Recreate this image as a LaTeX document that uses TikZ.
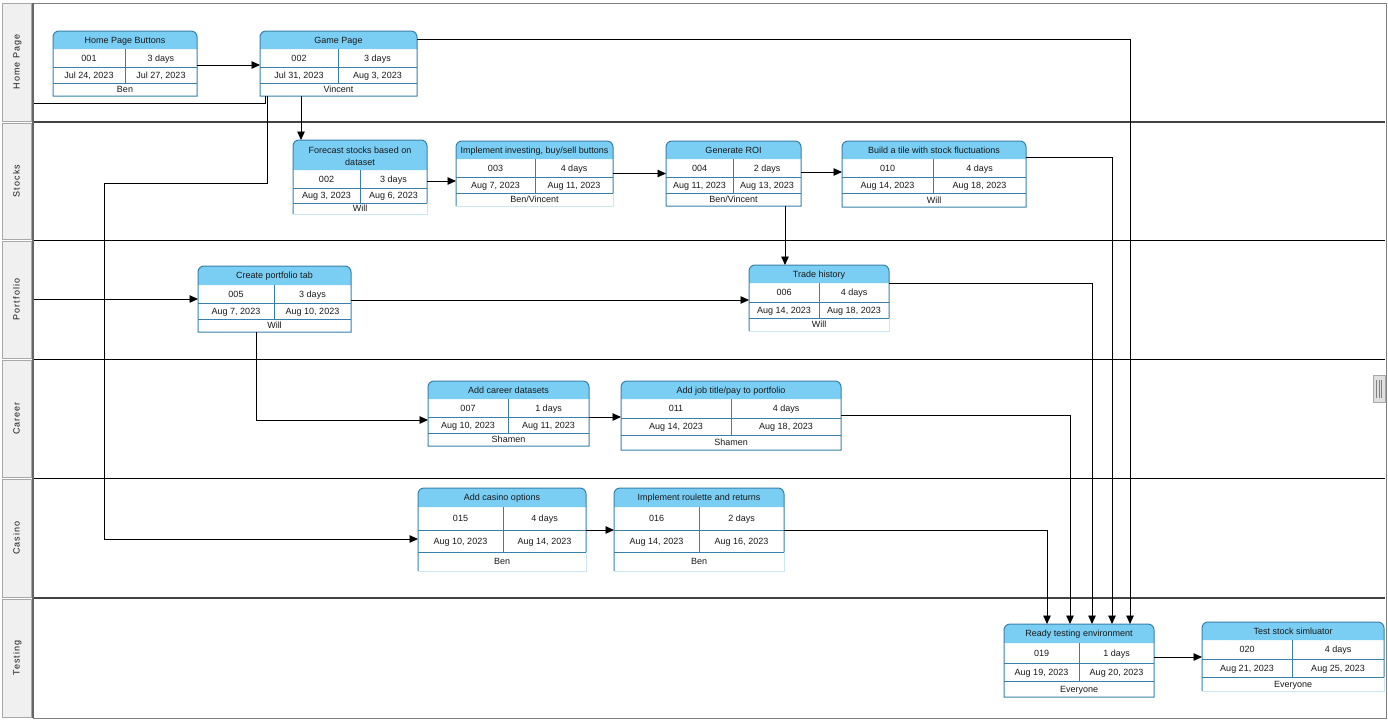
\documentclass[tikz,border=0pt]{standalone}
\usepackage{fontspec}
\setmainfont{Liberation Sans}
\newfontfamily\lanefont[LetterSpace=12]{Liberation Sans}
\usetikzlibrary{arrows.meta}
\definecolor{headblue}{RGB}{122,206,244}
\definecolor{cellblue}{RGB}{56,128,170}
\definecolor{paleblue}{RGB}{204,230,242}
\definecolor{ink}{RGB}{25,25,25}
\definecolor{lanefill}{RGB}{240,240,240}
\definecolor{laneedge}{RGB}{168,168,168}
\definecolor{sepgray}{RGB}{66,66,66}
\begin{document}
    \begin{tikzpicture}[x=1pt, y=-1pt,
        every node/.style={font=\fontsize{9}{11}\selectfont, text=ink, inner sep=0, outer sep=0, text height=6.4pt, text depth=0pt},
        task/.style={rectangle, fill=white},
        head/.style={fill=headblue},
        frame/.style={draw=cellblue, line width=1pt},
        pale/.style={draw=paleblue, line width=1pt},
        link/.style={draw=black, line width=0.9pt, -{Triangle[length=8.5pt,width=7.5pt]}},
        lanebox/.style={rectangle, rotate=90, fill=lanefill, draw=laneedge, line width=0.8pt, minimum height=29, font=\lanefont\fontsize{9}{10}\selectfont}]
        \useasboundingbox (0,0) rectangle (1388,720);
        \fill[white] (0,0) rectangle (1388,720);

        \draw[gray, line width=1pt] (33,3) -- (1386,3) -- (1386,718) -- (33,718);
        \draw[sepgray, line width=2pt] (33,122) -- (1385,122);
        \draw[black, line width=1pt] (33,240) -- (1385,240);
        \draw[black, line width=1pt] (33,359) -- (1385,359);
        \draw[black, line width=1pt] (33,478) -- (1385,478);
        \draw[sepgray, line width=2pt] (33,598) -- (1385,598);

        \node[task, minimum width=144, minimum height=65] (hpb) at (125, 63.5) {};
        \fill[head] (hpb.west |- 0,49) [rounded corners=6pt] -- (hpb.north west) -- (hpb.north east) [sharp corners] -- (hpb.east |- 0,49) -- cycle;
        \draw[frame] (hpb.west |- 0,67) -- (hpb.east |- 0,67) (hpb.west |- 0,83) -- (hpb.east |- 0,83) (125,49) -- (125,83);
        \draw[frame] (hpb.south west) [rounded corners=6pt] -- (hpb.north west) -- (hpb.north east) [sharp corners] -- (hpb.south east) -- cycle;
        \node (hpb-t) at (125, 40) { Home Page Buttons };
        \node (hpb-id) at (89, 58) { 001 };
        \node (hpb-du) at (161, 58) { 3 days };
        \node (hpb-s) at (89, 75) { Jul 24, 2023 };
        \node (hpb-e) at (161, 75) { Jul 27, 2023 };
        \node (hpb-w) at (125, 89.5) { Ben };

        \node[task, minimum width=157, minimum height=65] (game) at (338.5, 63.5) {};
        \fill[head] (game.west |- 0,49) [rounded corners=6pt] -- (game.north west) -- (game.north east) [sharp corners] -- (game.east |- 0,49) -- cycle;
        \draw[frame] (game.west |- 0,67) -- (game.east |- 0,67) (game.west |- 0,83) -- (game.east |- 0,83) (338,49) -- (338,83);
        \draw[frame] (game.south west) [rounded corners=6pt] -- (game.north west) -- (game.north east) [sharp corners] -- (game.south east) -- cycle;
        \node (game-t) at (338.5, 40) { Game Page };
        \node (game-id) at (299, 58) { 002 };
        \node (game-du) at (377.5, 58) { 3 days };
        \node (game-s) at (299, 75) { Jul 31, 2023 };
        \node (game-e) at (377.5, 75) { Aug 3, 2023 };
        \node (game-w) at (338.5, 89.5) { Vincent };

        \node[task, minimum width=134, minimum height=74] (fcst) at (360, 177) {};
        \fill[head] (fcst.west |- 0,170) [rounded corners=6pt] -- (fcst.north west) -- (fcst.north east) [sharp corners] -- (fcst.east |- 0,170) -- cycle;
        \draw[frame] (fcst.west |- 0,188) -- (fcst.east |- 0,188) (fcst.west |- 0,203) -- (fcst.east |- 0,203) (360,170) -- (360,203);
        \draw[frame] (fcst.south west) [rounded corners=6pt] -- (fcst.north west) -- (fcst.north east) [sharp corners] -- (fcst.east |- 0,203);
        \draw[pale] (fcst.east |- 0,203) -- (fcst.south east) -- (fcst.south west);
        \node (fcst-t) at (360, 150) { Forecast stocks based on };
        \node (fcst-t2) at (360, 162) { dataset };
        \node (fcst-id) at (326.5, 179) { 002 };
        \node (fcst-du) at (393.5, 179) { 3 days };
        \node (fcst-s) at (326.5, 195.5) { Aug 3, 2023 };
        \node (fcst-e) at (393.5, 195.5) { Aug 6, 2023 };
        \node (fcst-w) at (360, 208.5) { Will };

        \node[task, minimum width=157, minimum height=65] (invest) at (534.5, 173.5) {};
        \fill[head] (invest.west |- 0,159) [rounded corners=6pt] -- (invest.north west) -- (invest.north east) [sharp corners] -- (invest.east |- 0,159) -- cycle;
        \draw[frame] (invest.west |- 0,177) -- (invest.east |- 0,177) (invest.west |- 0,193) -- (invest.east |- 0,193) (535,159) -- (535,193);
        \draw[frame] (invest.south west) [rounded corners=6pt] -- (invest.north west) -- (invest.north east) [sharp corners] -- (invest.east |- 0,193);
        \draw[pale] (invest.east |- 0,193) -- (invest.south east) -- (invest.south west);
        \node (invest-t) at (534.5, 150) { Implement investing, buy/sell buttons };
        \node (invest-id) at (495.5, 168) { 003 };
        \node (invest-du) at (574, 168) { 4 days };
        \node (invest-s) at (495.5, 185) { Aug 7, 2023 };
        \node (invest-e) at (574, 185) { Aug 11, 2023 };
        \node (invest-w) at (534.5, 199.5) { Ben/Vincent };

        \node[task, minimum width=135, minimum height=65] (roi) at (733.5, 173.5) {};
        \fill[head] (roi.west |- 0,159) [rounded corners=6pt] -- (roi.north west) -- (roi.north east) [sharp corners] -- (roi.east |- 0,159) -- cycle;
        \draw[frame] (roi.west |- 0,177) -- (roi.east |- 0,177) (roi.west |- 0,193) -- (roi.east |- 0,193) (733,159) -- (733,193);
        \draw[frame] (roi.south west) [rounded corners=6pt] -- (roi.north west) -- (roi.north east) [sharp corners] -- (roi.south east) -- cycle;
        \node (roi-t) at (733.5, 150) { Generate ROI };
        \node (roi-id) at (699.5, 168) { 004 };
        \node (roi-du) at (767, 168) { 2 days };
        \node (roi-s) at (699.5, 185) { Aug 11, 2023 };
        \node (roi-e) at (767, 185) { Aug 13, 2023 };
        \node (roi-w) at (733.5, 199.5) { Ben/Vincent };

        \node[task, minimum width=184, minimum height=66] (tile) at (934, 174) {};
        \fill[head] (tile.west |- 0,159) [rounded corners=6pt] -- (tile.north west) -- (tile.north east) [sharp corners] -- (tile.east |- 0,159) -- cycle;
        \draw[frame] (tile.west |- 0,177) -- (tile.east |- 0,177) (tile.west |- 0,193) -- (tile.east |- 0,193) (933,159) -- (933,193);
        \draw[frame] (tile.south west) [rounded corners=6pt] -- (tile.north west) -- (tile.north east) [sharp corners] -- (tile.south east) -- cycle;
        \node (tile-t) at (934, 150) { Build a tile with stock fluctuations };
        \node (tile-id) at (887.5, 168) { 010 };
        \node (tile-du) at (979.5, 168) { 4 days };
        \node (tile-s) at (887.5, 185) { Aug 14, 2023 };
        \node (tile-e) at (979.5, 185) { Aug 18, 2023 };
        \node (tile-w) at (934, 200) { Will };

        \node[task, minimum width=153, minimum height=66] (port) at (274.5, 299) {};
        \fill[head] (port.west |- 0,285) [rounded corners=6pt] -- (port.north west) -- (port.north east) [sharp corners] -- (port.east |- 0,285) -- cycle;
        \draw[frame] (port.west |- 0,303) -- (port.east |- 0,303) (port.west |- 0,319) -- (port.east |- 0,319) (274,285) -- (274,319);
        \draw[frame] (port.south west) [rounded corners=6pt] -- (port.north west) -- (port.north east) [sharp corners] -- (port.south east) -- cycle;
        \node (port-t) at (274.5, 275.5) { Create portfolio tab };
        \node (port-id) at (236, 294) { 005 };
        \node (port-du) at (312.5, 294) { 3 days };
        \node (port-s) at (236, 311) { Aug 7, 2023 };
        \node (port-e) at (312.5, 311) { Aug 10, 2023 };
        \node (port-w) at (274.5, 325.5) { Will };

        \node[task, minimum width=140, minimum height=66] (trade) at (819, 298) {};
        \fill[head] (trade.west |- 0,283) [rounded corners=6pt] -- (trade.north west) -- (trade.north east) [sharp corners] -- (trade.east |- 0,283) -- cycle;
        \draw[frame] (trade.west |- 0,302) -- (trade.east |- 0,302) (trade.west |- 0,318) -- (trade.east |- 0,318) (819,283) -- (819,318);
        \draw[frame] (trade.south west) [rounded corners=6pt] -- (trade.north west) -- (trade.north east) [sharp corners] -- (trade.east |- 0,318);
        \draw[pale] (trade.east |- 0,318) -- (trade.south east) -- (trade.south west);
        \node (trade-t) at (819, 274) { Trade history };
        \node (trade-id) at (784, 292.5) { 006 };
        \node (trade-du) at (854, 292.5) { 4 days };
        \node (trade-s) at (784, 310) { Aug 14, 2023 };
        \node (trade-e) at (854, 310) { Aug 18, 2023 };
        \node (trade-w) at (819, 324.5) { Will };

        \node[task, minimum width=161, minimum height=65] (career) at (508.5, 413.5) {};
        \fill[head] (career.west |- 0,399) [rounded corners=6pt] -- (career.north west) -- (career.north east) [sharp corners] -- (career.east |- 0,399) -- cycle;
        \draw[frame] (career.west |- 0,417) -- (career.east |- 0,417) (career.west |- 0,433) -- (career.east |- 0,433) (508,399) -- (508,433);
        \draw[frame] (career.south west) [rounded corners=6pt] -- (career.north west) -- (career.north east) [sharp corners] -- (career.south east) -- cycle;
        \node (career-t) at (508.5, 390) { Add career datasets };
        \node (career-id) at (468, 408) { 007 };
        \node (career-du) at (548.5, 408) { 1 days };
        \node (career-s) at (468, 425) { Aug 10, 2023 };
        \node (career-e) at (548.5, 425) { Aug 11, 2023 };
        \node (career-w) at (508.5, 439.5) { Shamen };

        \node[task, minimum width=220, minimum height=69] (job) at (731, 415.5) {};
        \fill[head] (job.west |- 0,399) [rounded corners=6pt] -- (job.north west) -- (job.north east) [sharp corners] -- (job.east |- 0,399) -- cycle;
        \draw[frame] (job.west |- 0,418) -- (job.east |- 0,418) (job.west |- 0,435) -- (job.east |- 0,435) (731,399) -- (731,435);
        \draw[frame] (job.south west) [rounded corners=6pt] -- (job.north west) -- (job.north east) [sharp corners] -- (job.south east) -- cycle;
        \node (job-t) at (731, 390) { Add job title/pay to portfolio };
        \node (job-id) at (676, 408.5) { 011 };
        \node (job-du) at (786, 408.5) { 4 days };
        \node (job-s) at (676, 426.5) { Aug 14, 2023 };
        \node (job-e) at (786, 426.5) { Aug 18, 2023 };
        \node (job-w) at (731, 442.5) { Shamen };

        \node[task, minimum width=168, minimum height=83] (casino) at (502, 529.5) {};
        \fill[head] (casino.west |- 0,507) [rounded corners=6pt] -- (casino.north west) -- (casino.north east) [sharp corners] -- (casino.east |- 0,507) -- cycle;
        \draw[frame] (casino.west |- 0,530) -- (casino.east |- 0,530) (casino.west |- 0,552) -- (casino.east |- 0,552) (503,507) -- (503,552);
        \draw[frame] (casino.south west) [rounded corners=6pt] -- (casino.north west) -- (casino.north east) [sharp corners] -- (casino.east |- 0,552);
        \draw[pale] (casino.east |- 0,552) -- (casino.south east) -- (casino.south west);
        \node (casino-t) at (502, 497.5) { Add casino options };
        \node (casino-id) at (460.5, 518.5) { 015 };
        \node (casino-du) at (544.5, 518.5) { 4 days };
        \node (casino-s) at (460.5, 541) { Aug 10, 2023 };
        \node (casino-e) at (544.5, 541) { Aug 14, 2023 };
        \node (casino-w) at (502, 561.5) { Ben };

        \node[task, minimum width=170, minimum height=83] (roul) at (699, 529.5) {};
        \fill[head] (roul.west |- 0,507) [rounded corners=6pt] -- (roul.north west) -- (roul.north east) [sharp corners] -- (roul.east |- 0,507) -- cycle;
        \draw[frame] (roul.west |- 0,530) -- (roul.east |- 0,530) (roul.west |- 0,552) -- (roul.east |- 0,552) (699,507) -- (699,552);
        \draw[frame] (roul.south west) [rounded corners=6pt] -- (roul.north west) -- (roul.north east) [sharp corners] -- (roul.east |- 0,552);
        \draw[pale] (roul.east |- 0,552) -- (roul.south east) -- (roul.south west);
        \node (roul-t) at (699, 497.5) { Implement roulette and returns };
        \node (roul-id) at (656.5, 518.5) { 016 };
        \node (roul-du) at (741.5, 518.5) { 2 days };
        \node (roul-s) at (656.5, 541) { Aug 14, 2023 };
        \node (roul-e) at (741.5, 541) { Aug 16, 2023 };
        \node (roul-w) at (699, 561.5) { Ben };

        \node[task, minimum width=150, minimum height=73] (ready) at (1079, 660.5) {};
        \fill[head] (ready.west |- 0,643) [rounded corners=6pt] -- (ready.north west) -- (ready.north east) [sharp corners] -- (ready.east |- 0,643) -- cycle;
        \draw[frame] (ready.west |- 0,663) -- (ready.east |- 0,663) (ready.west |- 0,681) -- (ready.east |- 0,681) (1079,643) -- (1079,681);
        \draw[frame] (ready.south west) [rounded corners=6pt] -- (ready.north west) -- (ready.north east) [sharp corners] -- (ready.south east) -- cycle;
        \node (ready-t) at (1079, 633.5) { Ready testing environment };
        \node (ready-id) at (1041.5, 653) { 019 };
        \node (ready-du) at (1116.5, 653) { 1 days };
        \node (ready-s) at (1041.5, 672) { Aug 19, 2023 };
        \node (ready-e) at (1116.5, 672) { Aug 20, 2023 };
        \node (ready-w) at (1079, 689) { Everyone };

        \node[task, minimum width=182, minimum height=69] (test) at (1293, 656.5) {};
        \fill[head] (test.west |- 0,640) [rounded corners=6pt] -- (test.north west) -- (test.north east) [sharp corners] -- (test.east |- 0,640) -- cycle;
        \draw[frame] (test.west |- 0,659) -- (test.east |- 0,659) (test.west |- 0,677) -- (test.east |- 0,677) (1292,640) -- (1292,677);
        \draw[frame] (test.south west) [rounded corners=6pt] -- (test.north west) -- (test.north east) [sharp corners] -- (test.east |- 0,677);
        \draw[pale] (test.east |- 0,677) -- (test.south east) -- (test.south west);
        \node (test-t) at (1293, 631) { Test stock simluator };
        \node (test-id) at (1247, 649.5) { 020 };
        \node (test-du) at (1338, 649.5) { 4 days };
        \node (test-s) at (1247, 668) { Aug 21, 2023 };
        \node (test-e) at (1338, 668) { Aug 25, 2023 };
        \node (test-w) at (1293, 684) { Everyone };

        \draw[link] (hpb.east |- 0,65) -- (game.west |- 0,65);
        \draw[link] (game.south -| 301,0) -- (fcst.north -| 301,0);
        \draw[link] (game.south -| 265,0) |- (16,103) |- (port.west);
        \draw[link] (game.south -| 267,0) |- (104,183) |- (casino.west |- 0,539);
        \draw[link] (game.east |- 0,39) -| (ready.north -| 1130,0);
        \draw[link] (fcst.east |- 0,181) -- (invest.west |- 0,181);
        \draw[link] (invest.east) -- (roi.west);
        \draw[link] (roi.east |- 0,172) -- (tile.west |- 0,172);
        \draw[link] (roi.south -| 785,0) -- (trade.north -| 785,0);
        \draw[link] (tile.east |- 0,157) -| (ready.north -| 1112,0);
        \draw[link] (port.east |- 0,300) -- (trade.west |- 0,300);
        \draw[link] (port.south -| 256,0) |- (career.west |- 0,420);
        \draw[link] (trade.east |- 0,283) -| (ready.north -| 1092,0);
        \draw[link] (career.east |- 0,417) -- (job.west |- 0,417);
        \draw[link] (job.east |- 0,415) -| (ready.north -| 1070,0);
        \draw[link] (casino.east |- 0,530) -- (roul.west |- 0,530);
        \draw[link] (roul.east |- 0,530) -| (ready.north -| 1047,0);
        \draw[link] (ready.east |- 0,657) -- (test.west |- 0,657);

        \fill[white] (0,0) rectangle (32,720);
        \node[lanebox, minimum width=118] (lhome) at (16.5, 62) { Home Page };
        \node[lanebox, minimum width=116] (lstock) at (16.5, 181) { Stocks };
        \node[lanebox, minimum width=117] (lport) at (16.5, 299.5) { Portfolio };
        \node[lanebox, minimum width=117] (lcareer) at (16.5, 418.5) { Career };
        \node[lanebox, minimum width=118] (lcasino) at (16.5, 538) { Casino };
        \node[lanebox, minimum width=118] (ltest) at (16.5, 658) { Testing };
        \draw[gray!80!black, line width=1.5pt] (33,3) -- (33,718);

        \filldraw[fill=lanefill!85!gray, draw=laneedge] (1373,375) rectangle (1385,402);
        \draw[gray] (1376.5,380) -- (1376.5,398) (1379,380) -- (1379,398) (1381.5,380) -- (1381.5,398);

    \end{tikzpicture}
\end{document}
